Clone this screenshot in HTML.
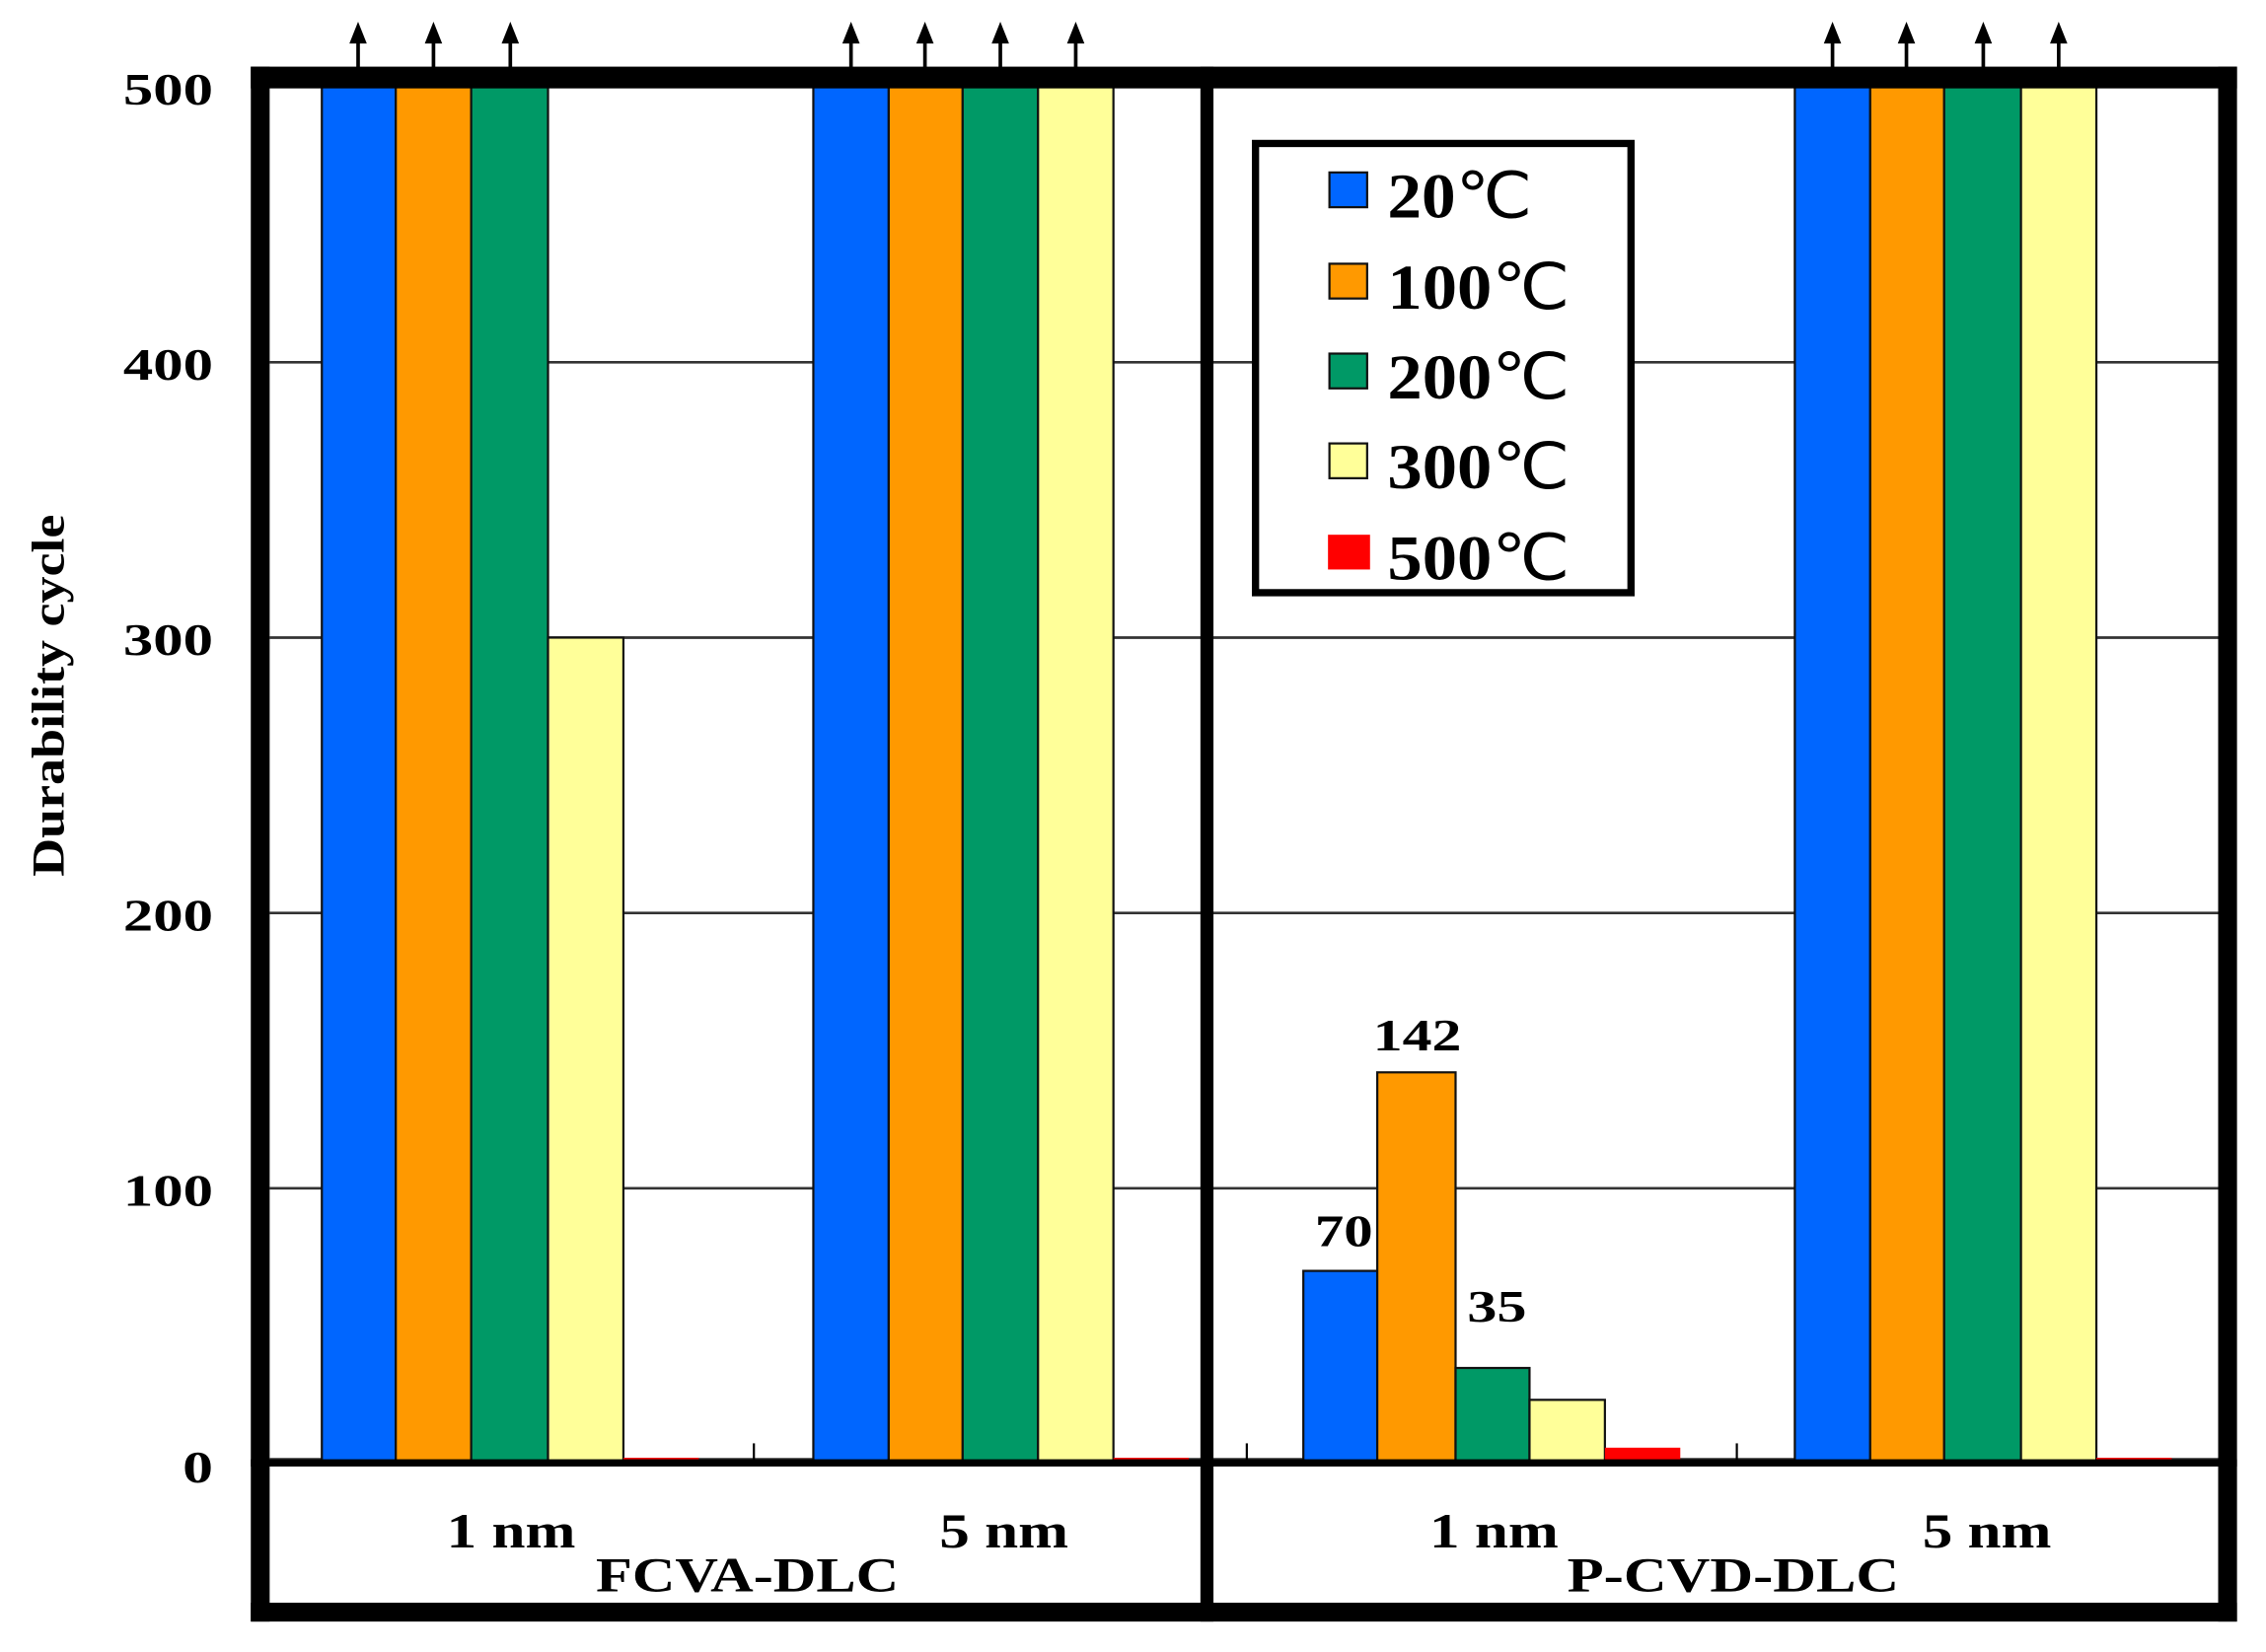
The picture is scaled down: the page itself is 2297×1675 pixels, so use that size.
<!DOCTYPE html>
<html><head><meta charset="utf-8"><style>html,body{margin:0;padding:0;background:#fff}svg{display:block}</style></head>
<body>
<svg width="2297" height="1675" viewBox="0 0 1563 1140" preserveAspectRatio="none" xmlns="http://www.w3.org/2000/svg" font-family="'Liberation Serif', serif" font-weight="bold">
<rect width="1563" height="1140" fill="#fff"/>
<g stroke="#333" stroke-width="1.8">
<line x1="186" y1="250" x2="1535" y2="250"/>
<line x1="186" y1="440" x2="1535" y2="440"/>
<line x1="186" y1="630" x2="1535" y2="630"/>
<line x1="186" y1="820" x2="1535" y2="820"/>
<line x1="186" y1="1007" x2="1535" y2="1007"/>
</g>
<g stroke="#000" stroke-width="1.5">
<line x1="520" y1="1008" x2="520" y2="996"/>
<line x1="860" y1="1008" x2="860" y2="996"/>
<line x1="1198" y1="1008" x2="1198" y2="996"/>
</g>
<g stroke="#111" stroke-width="1.5">
<rect x="222" y="60" width="51" height="950" fill="#0066ff"/>
<rect x="273" y="60" width="52" height="950" fill="#ff9900"/>
<rect x="325" y="60" width="53" height="950" fill="#009966"/>
<rect x="378" y="440" width="52" height="570" fill="#ffff99"/>
<rect x="561" y="60" width="52" height="950" fill="#0066ff"/>
<rect x="613" y="60" width="51" height="950" fill="#ff9900"/>
<rect x="664" y="60" width="52" height="950" fill="#009966"/>
<rect x="716" y="60" width="52" height="950" fill="#ffff99"/>
<rect x="899" y="877" width="51" height="133" fill="#0066ff"/>
<rect x="950" y="740" width="54" height="270" fill="#ff9900"/>
<rect x="1004" y="944" width="51" height="66" fill="#009966"/>
<rect x="1055" y="966" width="52" height="44" fill="#ffff99"/>
<rect x="1238" y="60" width="52" height="950" fill="#0066ff"/>
<rect x="1290" y="60" width="51" height="950" fill="#ff9900"/>
<rect x="1341" y="60" width="53" height="950" fill="#009966"/>
<rect x="1394" y="60" width="52" height="950" fill="#ffff99"/>
</g>
<g fill="#ff0000">
<rect x="430" y="1006" width="52" height="3"/>
<rect x="768" y="1006" width="52" height="3"/>
<rect x="1107" y="999" width="52" height="10"/>
<rect x="1446" y="1006" width="52" height="3"/>
</g>
<rect x="173" y="1007" width="1370" height="5" fill="#000"/>
<rect x="173" y="46" width="1370" height="15" fill="#000"/>
<rect x="173" y="46" width="13" height="1073" fill="#000"/>
<rect x="1530" y="46" width="13" height="1073" fill="#000"/>
<rect x="173" y="1106" width="1370" height="13" fill="#000"/>
<rect x="828" y="46" width="9" height="1073" fill="#000"/>
<g stroke="#000" stroke-width="2.5" fill="#000">
<line x1="247" y1="59" x2="247" y2="25"/><polygon points="241,30 253,30 247,15" stroke="none"/>
<line x1="299" y1="59" x2="299" y2="25"/><polygon points="293,30 305,30 299,15" stroke="none"/>
<line x1="352" y1="59" x2="352" y2="25"/><polygon points="346,30 358,30 352,15" stroke="none"/>
<line x1="587" y1="59" x2="587" y2="25"/><polygon points="581,30 593,30 587,15" stroke="none"/>
<line x1="638" y1="59" x2="638" y2="25"/><polygon points="632,30 644,30 638,15" stroke="none"/>
<line x1="690" y1="59" x2="690" y2="25"/><polygon points="684,30 696,30 690,15" stroke="none"/>
<line x1="742" y1="59" x2="742" y2="25"/><polygon points="736,30 748,30 742,15" stroke="none"/>
<line x1="1264" y1="59" x2="1264" y2="25"/><polygon points="1258,30 1270,30 1264,15" stroke="none"/>
<line x1="1315" y1="59" x2="1315" y2="25"/><polygon points="1309,30 1321,30 1315,15" stroke="none"/>
<line x1="1368" y1="59" x2="1368" y2="25"/><polygon points="1362,30 1374,30 1368,15" stroke="none"/>
<line x1="1420" y1="59" x2="1420" y2="25"/><polygon points="1414,30 1426,30 1420,15" stroke="none"/>
</g>
<g font-size="31">
<text x="85" y="72" textLength="62" lengthAdjust="spacingAndGlyphs">500</text>
<text x="85" y="262" textLength="62" lengthAdjust="spacingAndGlyphs">400</text>
<text x="85" y="452" textLength="62" lengthAdjust="spacingAndGlyphs">300</text>
<text x="85" y="642" textLength="62" lengthAdjust="spacingAndGlyphs">200</text>
<text x="85" y="832" textLength="62" lengthAdjust="spacingAndGlyphs">100</text>
<text x="126" y="1023" textLength="21" lengthAdjust="spacingAndGlyphs">0</text>
</g>
<text transform="translate(44,605) rotate(-90)" font-size="32" textLength="250" lengthAdjust="spacingAndGlyphs">Durability cycle</text>
<g font-size="34">
<text x="308" y="1068" textLength="89" lengthAdjust="spacingAndGlyphs">1 nm</text>
<text x="648" y="1068" textLength="89" lengthAdjust="spacingAndGlyphs">5 nm</text>
<text x="986" y="1068" textLength="89" lengthAdjust="spacingAndGlyphs">1 nm</text>
<text x="1326" y="1068" textLength="89" lengthAdjust="spacingAndGlyphs">5 nm</text>
<text x="411" y="1098" textLength="209" lengthAdjust="spacingAndGlyphs">FCVA-DLC</text>
<text x="1081" y="1098" textLength="229" lengthAdjust="spacingAndGlyphs">P-CVD-DLC</text>
</g>
<g font-size="31">
<text x="947" y="725" textLength="61" lengthAdjust="spacingAndGlyphs">142</text>
<text x="907" y="860" textLength="40" lengthAdjust="spacingAndGlyphs">70</text>
<text x="1012" y="912" textLength="41" lengthAdjust="spacingAndGlyphs">35</text>
</g>
<rect x="866" y="99" width="259" height="310" fill="#fff" stroke="#000" stroke-width="5"/>
<g stroke="#111" stroke-width="1.5">
<rect x="917" y="119" width="26" height="24" fill="#0066ff"/>
<rect x="917" y="182" width="26" height="24" fill="#ff9900"/>
<rect x="917" y="244" width="26" height="24" fill="#009966"/>
<rect x="917" y="306" width="26" height="24" fill="#ffff99"/>
</g>
<rect x="916" y="369" width="29" height="24" fill="#ff0000"/>
<g font-size="44">
<text x="957" y="150" textLength="100" lengthAdjust="spacingAndGlyphs">20<tspan font-weight="normal">℃</tspan></text>
<text x="957" y="213" textLength="126" lengthAdjust="spacingAndGlyphs">100<tspan font-weight="normal">℃</tspan></text>
<text x="957" y="275" textLength="126" lengthAdjust="spacingAndGlyphs">200<tspan font-weight="normal">℃</tspan></text>
<text x="957" y="337" textLength="126" lengthAdjust="spacingAndGlyphs">300<tspan font-weight="normal">℃</tspan></text>
<text x="957" y="400" textLength="126" lengthAdjust="spacingAndGlyphs">500<tspan font-weight="normal">℃</tspan></text>
</g>
</svg>
</body></html>
